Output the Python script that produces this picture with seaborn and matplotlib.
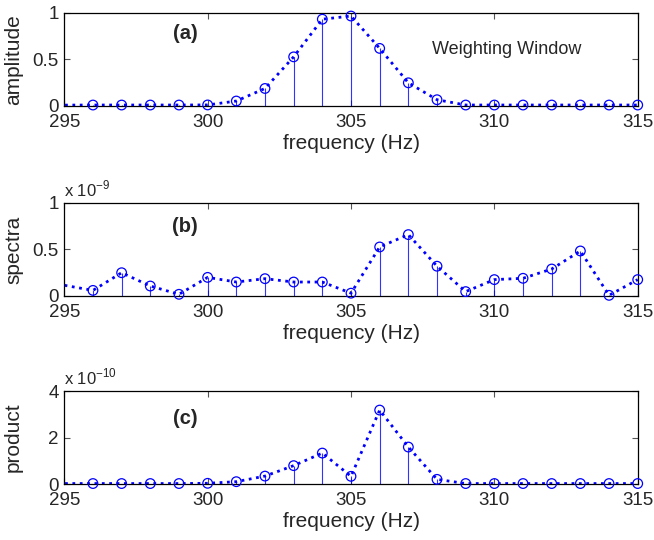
import numpy as np
import pandas as pd
import seaborn as sns
import matplotlib.pyplot as plt

# frequency axis (first point lies left of the visible range)
freq = [294] + list(range(296, 316))

# (a) weighting window
amplitude = [0.005, 0.007, 0.007, 0.007, 0.007, 0.008, 0.05, 0.185, 0.525, 0.93, 0.964,
             0.616, 0.246, 0.064, 0.007, 0.007, 0.007, 0.007, 0.007, 0.007, 0.007]
# (b) spectra, in units of 1e-9
spectra = [0.17, 0.06, 0.25, 0.107, 0.018, 0.2, 0.15, 0.186, 0.15, 0.15, 0.03,
           0.527, 0.66, 0.32, 0.047, 0.176, 0.19, 0.29, 0.484, 0.007, 0.176]
# (c) product, in units of 1e-10
product = [0.02, 0.02, 0.02, 0.02, 0.02, 0.03, 0.1, 0.34, 0.79, 1.33, 0.33,
           3.18, 1.59, 0.2, 0.02, 0.02, 0.02, 0.02, 0.02, 0.02, 0.02]

panels = [
    ("amplitude", amplitude, "(a)", 0.78, None, (0, 1), [0, 0.5, 1], ["0", "0.5", "1"]),
    ("spectra", spectra, "(b)", 0.747, "-9", (0, 1), [0, 0.5, 1], ["0", "0.5", "1"]),
    ("product", product, "(c)", 0.70, "-10", (0, 4), [0, 2, 4], ["0", "2", "4"]),
]

sns.set_style("ticks")
plt.rcParams["font.family"] = ["Liberation Sans", "DejaVu Sans"]
plt.rcParams["mathtext.fontset"] = "custom"
plt.rcParams["mathtext.rm"] = "Liberation Sans"

fig = plt.figure(figsize=(6.54, 5.4), dpi=100)
bottoms = [0.8043, 0.4519, 0.1037]
blue = (0, 0, 1)

for (ylab, vals, tag, tag_y, expo, ylim, yt, ytl), b in zip(panels, bottoms):
    ax = fig.add_axes([0.0983, b, 0.8768, 0.1722])
    df = pd.DataFrame({"f": freq, "v": vals})
    shown = df.iloc[1:]

    ax.vlines(shown["f"], 0, shown["v"], color=blue, lw=0.8, alpha=0.8)
    sns.lineplot(data=df, x="f", y="v", ax=ax, color=blue, lw=2.0,
                 linestyle=":", estimator=None, sort=False)
    sns.scatterplot(data=shown, x="f", y="v", ax=ax, marker="o", s=48,
                    facecolor="none", edgecolor=blue, linewidth=0.9,
                    clip_on=False, zorder=5)

    ax.set_xlim(295, 315)
    ax.set_ylim(*ylim)
    ax.set_xticks([295, 300, 305, 310, 315])
    ax.set_yticks(yt)
    ax.set_yticklabels(ytl)
    ax.tick_params(direction="in", length=4, width=0.8, top=True, right=True,
                   labelsize=13.5, pad=4, color="#555555")
    ax.tick_params(axis="x", pad=6)
    for s in ax.spines.values():
        s.set_linewidth(0.9)
        s.set_color("black")
    ax.set_xlabel("frequency (Hz)", fontsize=15, labelpad=2)
    ax.set_ylabel(ylab, fontsize=15)
    ax.yaxis.set_label_coords(-0.072, 0.5)

    ax.text(0.211, tag_y, tag, transform=ax.transAxes, fontsize=14.5,
            fontweight="bold", ha="center", va="center")
    if expo is not None:
        ax.text(0.0, 1.04, "x 10$^{" + expo + "}$", transform=ax.transAxes,
                fontsize=12, ha="left", va="bottom")

    if tag == "(a)":
        ax.text(0.771, 0.6, "Weighting Window", transform=ax.transAxes,
                fontsize=13, ha="center", va="center")

fig.savefig("out.png", dpi=100)
